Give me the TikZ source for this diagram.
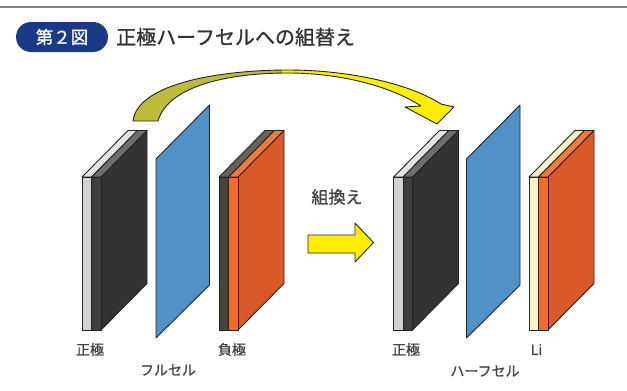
\documentclass[tikz,border=0pt]{standalone}
\usepackage{fontspec}
\newfontfamily\jp[FakeBold=1.1]{Noto Sans CJK JP}
\usetikzlibrary{calc}

% palette
\definecolor{edge}{HTML}{242424}
\definecolor{navy}{HTML}{1B3A85}
\definecolor{titlegray}{HTML}{333333}
\definecolor{labelgray}{HTML}{454545}
\definecolor{rule}{HTML}{808080}
\definecolor{foilfront}{HTML}{D2D2D2}
\definecolor{foiltop}{HTML}{E4E4E4}
\definecolor{coatfront}{HTML}{3D3E40}
\definecolor{coattop}{HTML}{6E6E6E}
\definecolor{coatside}{HTML}{333333}
\definecolor{cufront}{HTML}{47433A}
\definecolor{cutop}{HTML}{66625C}
\definecolor{anfront}{HTML}{F26B2B}
\definecolor{antop}{HTML}{F07A3A}
\definecolor{anside}{HTML}{D95A28}
\definecolor{lifront}{HTML}{F8F5C8}
\definecolor{litop}{HTML}{F6F3C6}
\definecolor{sepblue}{HTML}{5092C8}
\definecolor{olive}{HTML}{BDBB3C}
\definecolor{brightyellow}{HTML}{FFEE00}

\tikzset{
  plate/.style={draw=edge, line width=0.9pt, line join=round},
  label/.style={font=\jp\fontsize{14}{16}\selectfont, text=labelgray, inner sep=0pt},
}

% electrode slab: #1 left x of front face, #2/#3 outer layer front/top,
% #4/#5 inner layer front/top, #6 side face
\newcommand\slab[6]{%
  \fill[#6, plate] (#1+19,177) -- (#1+65,130.5) -- (#1+65,283.5) -- (#1+19,330) -- cycle;
  \fill[#3, plate] (#1,177) -- (#1+9.5,177) -- (#1+55.5,130.5) -- (#1+46,130.5) -- cycle;
  \fill[#5, plate] (#1+9.5,177) -- (#1+19,177) -- (#1+65,130.5) -- (#1+55.5,130.5) -- cycle;
  \fill[#2, plate] (#1,177) rectangle (#1+9.5,330);
  \fill[#4, plate] (#1+9.5,177) rectangle (#1+19,330);
}
% separator sheet with left edge at #1
\newcommand\sheet[1]{%
  \fill[sepblue, plate] (#1,159) -- (#1+53.5,105) -- (#1+53.5,285) -- (#1,338) -- cycle;
}

\begin{document}
\begin{tikzpicture}[x=1pt,y=-1pt]
\useasboundingbox (0,0) rectangle (627,391);

% header rule
\draw[rule, line width=1.4pt] (0,7) -- (627,7);

% caption badge and title
\node[fill=navy, rounded corners=15pt, minimum width=92pt, minimum height=30pt, inner sep=0pt,
      text=white, font=\jp\fontsize{17.5}{19}\selectfont] (badge) at (62,37) {第２図};
\node[anchor=west, inner sep=0pt, text=titlegray, font=\jp\fontsize{20}{22}\selectfont] (title)
  at (116,37) {正極ハーフセルへの組替え};

% curved transfer arrow
\def\bend{(133,121) .. controls (138,82) and (225,70) .. (288,70)
  .. controls (350,70) and (410,84) .. (441,104)
  -- (454,107) -- (437,124) -- (405,107) -- (421,106)
  .. controls (390,86) and (340,73) .. (288,73)
  .. controls (228,73) and (168,86) .. (158,121) -- cycle}
\begin{scope}
  \clip (0,0) rectangle (282,200);
  \fill[olive] \bend;
\end{scope}
\begin{scope}
  \clip (282,0) rectangle (627,200);
  \fill[brightyellow] \bend;
\end{scope}
\draw[edge, line width=0.9pt, line join=round] \bend;

% full cell
\slab{82}{foilfront}{foiltop}{coatfront}{coattop}{coatside}
\sheet{156}
\slab{219}{cufront}{cutop}{anfront}{antop}{anside}

% half cell
\slab{393.5}{foilfront}{foiltop}{coatfront}{coattop}{coatside}
\sheet{466.5}
\slab{529}{lifront}{litop}{anfront}{antop}{anside}

% block arrow between the cells
\fill[brightyellow, plate] (308,235) -- (355,235) -- (355,223) -- (373.5,242.5)
  -- (355,262) -- (355,253) -- (308,253) -- cycle;
\node[label, font=\jp\fontsize{17}{19}\selectfont] (swap) at (337,197) {組換え};

% labels
\node[label] (posL) at (90,349.5) {正極};
\node[label] (negL) at (232,349.5) {負極};
\node[label] (full) at (168,370) {フルセル};
\node[label] (posR) at (406,349.5) {正極};
\node[label] (li) at (536.5,349.5) {Li};
\node[label] (half) at (485,371) {ハーフセル};
\end{tikzpicture}
\end{document}
